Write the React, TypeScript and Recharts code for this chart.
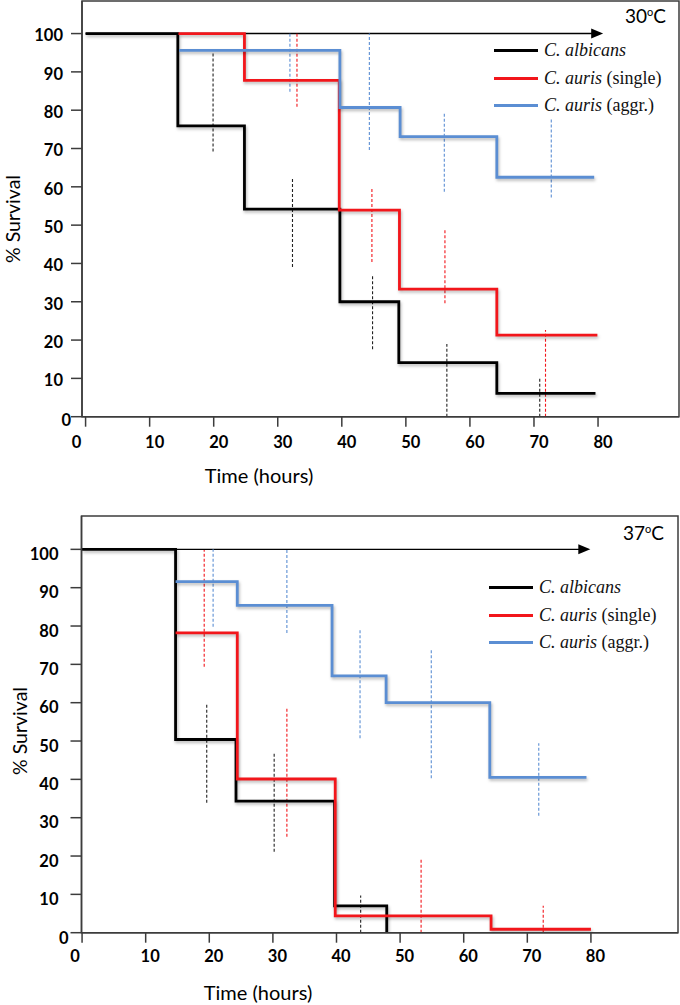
import React from 'react';
import {
  LineChart,
  Line,
  XAxis,
  YAxis,
  ReferenceLine,
  ReferenceArea,
  Legend
} from 'recharts';

// shared ticks
const hourTicks = [0, 10, 20, 30, 40, 50, 60, 70, 80];
const survivalTicks = [0, 10, 20, 30, 40, 50, 60, 70, 80, 90, 100];

// 30 C step curves
const albicans30Hours = [0, 14.4, 24.8, 39.7, 48.9, 64.2, 79.6];
const albicans30Surv = [100, 75.9, 54.2, 30.0, 14.1, 6.1, 6.1];
const single30Hours = [14.5, 24.8, 39.6, 49.0, 64.2, 79.9];
const single30Surv = [100, 87.8, 53.9, 33.3, 21.3, 21.3];
const aggr30Hours = [14.6, 39.7, 49.1, 64.2, 79.4];
const aggr30Surv = [95.6, 80.7, 73.1, 62.5, 62.5];

// 30 C dashed intervals
const albicans30ErrHours = [19.9, 32.3, 44.8, 56.4, 70.9];
const albicans30ErrLow = [69.2, 39.1, 17.6, 0, 0];
const albicans30ErrHigh = [94.8, 62.2, 36.7, 19.0, 10.3];
const single30ErrHours = [33.0, 44.7, 56.1, 71.8];
const single30ErrLow = [80.9, 40.4, 29.6, 0];
const single30ErrHigh = [100, 59.6, 48.7, 22.6];
const aggr30ErrHours = [31.9, 44.3, 56.0, 72.7];
const aggr30ErrLow = [84.8, 69.6, 58.7, 57.2];
const aggr30ErrHigh = [100, 100, 79.2, 77.9];

// 37 C step curves
const albicans37Hours = [0, 14.7, 24.2, 39.7, 47.9];
const albicans37Surv = [100, 50.4, 34.3, 7.0, 0];
const single37Hours = [14.7, 24.4, 39.8, 64.3, 80.0];
const single37Surv = [78.2, 40.1, 4.4, 0.9, 0.9];
const aggr37Hours = [14.7, 24.4, 39.3, 47.8, 64.1, 79.3];
const aggr37Surv = [91.6, 85.4, 67.0, 60.0, 40.5, 40.5];

// 37 C dashed intervals
const albicans37ErrHours = [19.6, 30.2, 43.8];
const albicans37ErrLow = [33.9, 21.1, 0];
const albicans37ErrHigh = [60, 47.2, 9.7];
const single37ErrHours = [19.2, 32.2, 53.3, 72.5];
const single37ErrLow = [69.4, 25.0, 0, 0];
const single37ErrHigh = [99.8, 58.9, 19.0, 7.0];
const aggr37ErrHours = [20.6, 32.2, 43.7, 54.9, 71.8];
const aggr37ErrLow = [79.8, 78.2, 50.7, 40.3, 30.5];
const aggr37ErrHigh = [100, 100, 79.4, 73.9, 49.4];

const BLACK = '#000000';
const RED = '#f2161b';
const BLUE = '#5b8ed3';

const toPoints = (hours: number[], surv: number[]) =>
  hours.map((t, i) => ({ t, v: surv[i] }));

const toErrors = (hours: number[], lo: number[], hi: number[]) =>
  hours.map((t, i) => ({ t, lo: lo[i], hi: hi[i] }));

const legendItems = [
  { name: 'C. albicans', extra: '', color: BLACK },
  { name: 'C. auris', extra: ' (single)', color: RED },
  { name: 'C. auris', extra: ' (aggr.)', color: BLUE }
];

const tickFont = 'Lato, "Open Sans", sans-serif';

const ArrowLine = (p: any) => (
  <g>
    <line x1={p.x1} y1={p.y1} x2={p.x2 - 8} y2={p.y2} stroke="#000" strokeWidth={1.4} />
    <polygon
      points={`${p.x2},${p.y2} ${p.x2 - 12},${p.y2 - 5} ${p.x2 - 12},${p.y2 + 5}`}
      fill="#000"
    />
  </g>
);

function LegendBox() {
  return (
    <div style={{ fontFamily: '"Liberation Serif", "Times New Roman", serif', fontSize: 18 }}>
      {legendItems.map((it, i) => (
        <div key={i} style={{ height: 27.5, display: 'flex', alignItems: 'center' }}>
          <span
            style={{
              display: 'inline-block',
              width: 44,
              height: 3,
              background: it.color,
              marginRight: 6
            }}
          />
          <span style={{ color: '#111' }}>
            <i>{it.name}</i>
            {it.extra}
          </span>
        </div>
      ))}
    </div>
  );
}

interface PanelProps {
  top: number;
  height: number;
  margin: { top: number; right: number; left: number; bottom: number };
  yAxisWidth: number;
  xAxisHeight: number;
  xDomain: [number, number];
  yMax: number;
  curves: { hours: number[]; surv: number[]; color: string }[];
  errors: { hours: number[]; lo: number[]; hi: number[]; color: string }[];
  arrowEnd: number;
  temp: string;
  tempPos: { x: number; y: number };
  yTickMargin: number;
  yTickDy: number;
  yZero: { dx: number; dy: number };
  xTickDy: number;
  xTickDx: number;
  xZeroDx: number;
  yTitle: { x: number; y: number };
  xTitle: { x: number; y: number };
  legendPos: { left: number; top: number };
}

function Panel(props: PanelProps) {
  const {
    top, height, margin, yAxisWidth, xAxisHeight, xDomain, yMax, curves, errors,
    arrowEnd, temp, tempPos, yTickMargin, yTickDy, yZero, xTickDy, xTickDx, xZeroDx,
    yTitle, xTitle, legendPos
  } = props;

  const SurvTick = ({ x, y, payload }: any) => {
    const zero = payload.value === 0;
    return (
      <text
        x={x + (zero ? yZero.dx : 0)}
        y={y + (zero ? yZero.dy : yTickDy)}
        dy="0.35em"
        textAnchor="end"
        fontFamily={tickFont}
        fontWeight={700}
        fontSize={16.5}
        fill="#000"
      >
        {payload.value}
      </text>
    );
  };

  const HourTick = ({ x, y, payload }: any) => {
    const zero = payload.value === 0;
    return (
      <text
        x={x + (zero ? xZeroDx : xTickDx)}
        y={y + xTickDy}
        textAnchor="middle"
        fontFamily={tickFont}
        fontWeight={700}
        fontSize={16.5}
        fill="#000"
      >
        {payload.value}
      </text>
    );
  };

  return (
    <div style={{ position: 'absolute', left: 0, top }}>
      <LineChart width={680} height={height} margin={margin}>
        <XAxis
          type="number"
          dataKey="t"
          domain={xDomain}
          ticks={hourTicks}
          allowDataOverflow
          height={xAxisHeight}
          tickSize={10}
          tickMargin={0}
          axisLine={{ stroke: '#3c3c3c', strokeWidth: 1.5 }}
          tickLine={{ stroke: '#3c3c3c', strokeWidth: 1.5 }}
          tick={<HourTick />}
          label={() => (
            <text
              x={xTitle.x}
              y={xTitle.y}
              textAnchor="middle"
              fontFamily={tickFont}
              fontSize={20}
              fill="#000"
            >
              Time (hours)
            </text>
          )}
        />
        <YAxis
          type="number"
          domain={[0, yMax]}
          ticks={survivalTicks}
          allowDataOverflow
          width={yAxisWidth}
          tickSize={11}
          tickMargin={yTickMargin}
          axisLine={{ stroke: '#3c3c3c', strokeWidth: 1.5 }}
          tickLine={{ stroke: '#3c3c3c', strokeWidth: 1.5 }}
          tick={<SurvTick />}
          label={() => (
            <text
              x={yTitle.x}
              y={yTitle.y}
              transform={`rotate(-90 ${yTitle.x} ${yTitle.y})`}
              textAnchor="middle"
              dominantBaseline="central"
              fontFamily={tickFont}
              fontSize={19.5}
              fill="#000"
            >
              % Survival
            </text>
          )}
        />
        <ReferenceArea
          x1={xDomain[0]}
          x2={xDomain[1]}
          y1={0}
          y2={yMax}
          fill="none"
          fillOpacity={0}
          stroke="#3c3c3c"
          strokeWidth={1.5}
          label={() => (
            <text x={tempPos.x} y={tempPos.y} fontFamily={tickFont} fontSize={19} fill="#000">
              {temp}
              <tspan fontSize={11} dy={-7}>o</tspan>
              <tspan dy={7}>C</tspan>
            </text>
          )}
        />
        <ReferenceLine
          segment={[{ x: 0, y: 100 }, { x: arrowEnd, y: 100 }]}
          shape={ArrowLine}
        />
        {errors.map((e, si) =>
          toErrors(e.hours, e.lo, e.hi).map((b, i) => (
            <ReferenceLine
              key={`e${si}-${i}`}
              segment={[{ x: b.t, y: b.lo }, { x: b.t, y: b.hi }]}
              stroke={e.color}
              strokeWidth={1.1}
              strokeDasharray="3 2"
            />
          ))
        )}
        {curves.map((c, i) => (
          <Line
            key={i}
            className="km"
            data={toPoints(c.hours, c.surv)}
            dataKey="v"
            type="stepAfter"
            stroke={c.color}
            strokeWidth={2.8}
            dot={false}
            activeDot={false}
            isAnimationActive={false}
          />
        ))}
        <Legend
          layout="vertical"
          align="center"
          verticalAlign="middle"
          wrapperStyle={{ left: legendPos.left, top: legendPos.top, width: 200 }}
          content={() => <LegendBox />}
        />
      </LineChart>
    </div>
  );
}

export default function App() {
  return (
    <div style={{ position: 'absolute', left: 0, top: 0, width: 680, height: 1005, background: '#fff' }}>
      <style>{`.km .recharts-line-curve { filter: drop-shadow(1px 2px 1.5px rgba(0,0,0,0.28)); }`}</style>
      <Panel
        top={0}
        height={500}
        margin={{ top: 1, right: 1, left: 0, bottom: 0 }}
        yAxisWidth={82}
        xAxisHeight={83.3}
        xDomain={[-0.56, 92.64]}
        yMax={108.5}
        curves={[
          { hours: albicans30Hours, surv: albicans30Surv, color: BLACK },
          { hours: single30Hours, surv: single30Surv, color: RED },
          { hours: aggr30Hours, surv: aggr30Surv, color: BLUE }
        ]}
        errors={[
          { hours: albicans30ErrHours, lo: albicans30ErrLow, hi: albicans30ErrHigh, color: '#222' },
          { hours: single30ErrHours, lo: single30ErrLow, hi: single30ErrHigh, color: RED },
          { hours: aggr30ErrHours, lo: aggr30ErrLow, hi: aggr30ErrHigh, color: BLUE }
        ]}
        arrowEnd={80.8}
        temp="30"
        tempPos={{ x: 625, y: 22.7 }}
        yTickMargin={8}
        yTickDy={2}
        yZero={{ dx: 8, dy: 4 }}
        xTickDy={21.6}
        xTickDx={5}
        xZeroDx={-9}
        yTitle={{ x: 12, y: 219 }}
        xTitle={{ x: 259, y: 483.3 }}
        legendPos={{ left: 494, top: 37 }}
      />
      <Panel
        top={500}
        height={505}
        margin={{ top: 16, right: 2, left: 0, bottom: 0 }}
        yAxisWidth={81.5}
        xAxisHeight={72.3}
        xDomain={[-0.09, 93.69]}
        yMax={108.7}
        curves={[
          { hours: albicans37Hours, surv: albicans37Surv, color: BLACK },
          { hours: single37Hours, surv: single37Surv, color: RED },
          { hours: aggr37Hours, surv: aggr37Surv, color: BLUE }
        ]}
        errors={[
          { hours: albicans37ErrHours, lo: albicans37ErrLow, hi: albicans37ErrHigh, color: '#222' },
          { hours: single37ErrHours, lo: single37ErrLow, hi: single37ErrHigh, color: RED },
          { hours: aggr37ErrHours, lo: aggr37ErrLow, hi: aggr37ErrHigh, color: BLUE }
        ]}
        arrowEnd={79.9}
        temp="37"
        tempPos={{ x: 623, y: 40 }}
        yTickMargin={12}
        yTickDy={5}
        yZero={{ dx: 10, dy: 5.3 }}
        xTickDy={19}
        xTickDx={4.5}
        xZeroDx={-7}
        yTitle={{ x: 19, y: 231 }}
        xTitle={{ x: 258, y: 500 }}
        legendPos={{ left: 489, top: 74 }}
      />
    </div>
  );
}
